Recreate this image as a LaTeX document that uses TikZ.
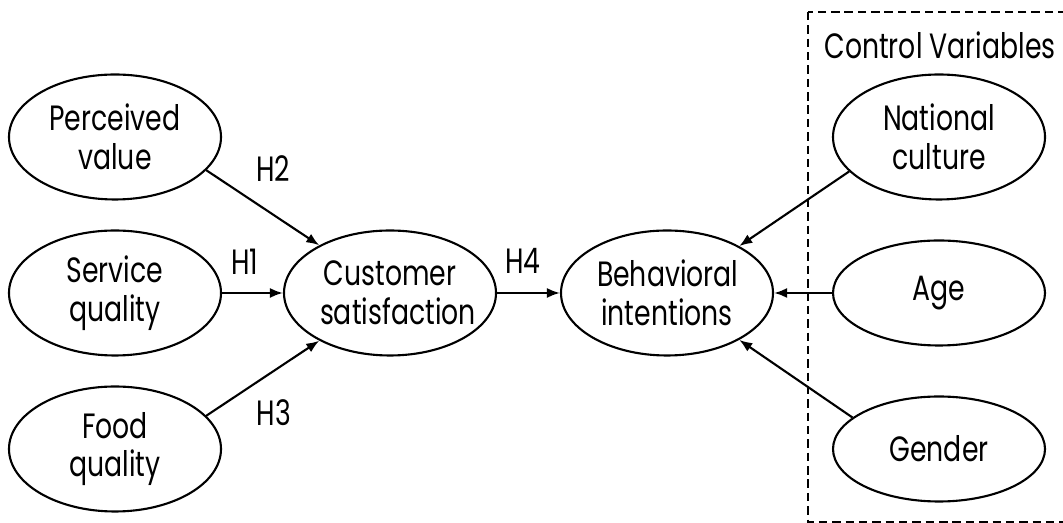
\documentclass[tikz,border=0pt]{standalone}
\usepackage{fontspec}
\setmainfont{Poppins}[FakeStretch=0.76]
\usetikzlibrary{shapes.geometric, arrows.meta}

\begin{document}
\begin{tikzpicture}[
				varnode/.style={ellipse, draw=black, line width=0.6pt, minimum width=2.12cm, minimum height=1.25cm, inner sep=0pt, text width=1.4cm, align=center, font=\fontsize{10}{11}\selectfont},
				onenode/.style={varnode, minimum height=1.05cm},
				link/.style={-{Latex[length=1.3mm, width=1mm]}, line width=0.6pt},
				hyp/.style={inner sep=0pt, font=\fontsize{10}{11}\selectfont}
			]

			\useasboundingbox (0, 0) rectangle (10.63, 5.23);

			\def \lx {1.15}
			\def \mx {3.90}
			\def \bx {6.67}
			\def \rx {9.39}

			\def \ya {3.86}
			\def \yb {2.30}
			\def \yc {0.74}

			% control variables box
			\draw[dashed, line width=0.5pt, dash pattern=on 2.4pt off 1.4pt] (8.08, 5.11) rectangle (10.75, 0.01);
			\node[hyp] (ctrl) at (9.40, 4.78) {Control Variables};

			\node[varnode] (value) at (\lx, \ya) {Perceived\\value};
			\node[varnode] (service) at (\lx, \yb) {Service\\quality};
			\node[varnode] (food) at (\lx, \yc) {Food\\quality};

			\node[varnode] (satisfaction) at (\mx, \yb) {Customer\\satisfaction};
			\node[varnode] (intentions) at (\bx, \yb) {Behavioral\\intentions};

			\node[varnode] (culture) at (\rx, \ya) {National\\culture};
			\node[onenode] (age) at (\rx, \yb) {Age};
			\node[onenode] (gender) at (\rx, \yc) {Gender};

			\draw[link] (value.-20) -- (satisfaction.146);
			\draw[link] (service) -- (satisfaction);
			\draw[link] (food.20) -- (satisfaction.214);
			\draw[link] (satisfaction) -- (intentions);

			\draw[link] (culture.201) -- (intentions.33);
			\draw[link] (age) -- (intentions);
			\draw[link] (gender.160) -- (intentions.-33);

			\node[hyp] (h1) at (2.45, 2.61) {H1};
			\node[hyp] (h2) at (2.73, 3.54) {H2};
			\node[hyp] (h3) at (2.74, 1.10) {H3};
			\node[hyp] (h4) at (5.23, 2.62) {H4};

		\end{tikzpicture}
\end{document}
